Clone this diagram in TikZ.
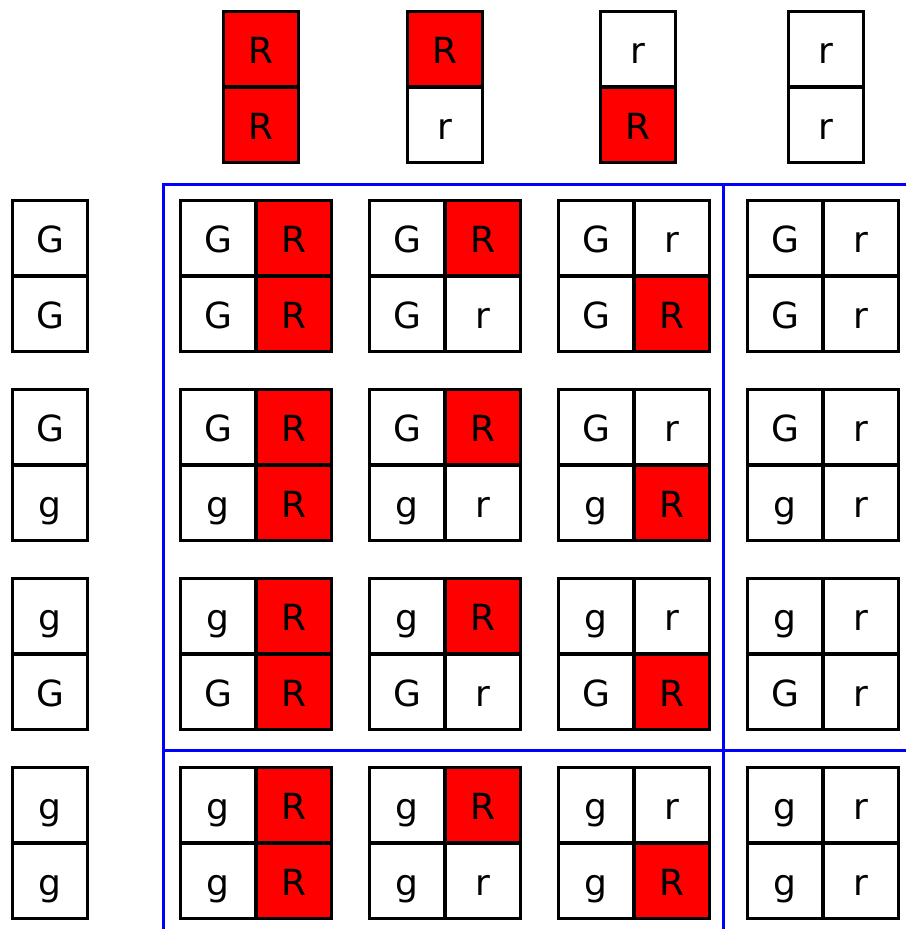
\documentclass[tikz,border=0pt]{standalone}
\usepackage{fontspec}
\setmainfont{DejaVu Sans}
\begin{document}
\begin{tikzpicture}[x=0.75pt,y=-0.75pt,
  cell/.style={draw=black, line width=2.6pt, minimum width=56.6pt, minimum height=56.6pt,
    inner sep=0pt, text height=22.1pt, text depth=0pt, font=\fontsize{27}{27}\selectfont},
  divider/.style={draw=blue, line width=2.6pt}]
\useasboundingbox (0,0) rectangle (906,929);
% header (column) pairs
\foreach \c/\x/\ta/\fa/\tb/\fb in {1/261/R/red/R/red, 2/445/R/red/r/white, 3/638/r/white/R/red, 4/826/r/white/r/white}{
  \node[cell,fill=\fa] (h\c a) at (\x,49.25) {\ta};
  \node[cell,fill=\fb] (h\c b) at (\x,124.75) {\tb};
}
% row labels
\foreach \r/\ta/\tb in {1/G/G, 2/G/g, 3/g/G, 4/g/g}{
  \pgfmathsetmacro\ya{238+189*(\r-1)}
  \pgfmathsetmacro\yb{313.5+189*(\r-1)}
  \node[cell] (v\r a) at (50,\ya) {\ta};
  \node[cell] (v\r b) at (50,\yb) {\tb};
  % grid
  \foreach \c/\ca/\fa/\cb/\fb in {1/R/red/R/red, 2/R/red/r/white, 3/r/white/R/red, 4/r/white/r/white}{
    \pgfmathsetmacro\xl{218.25+189*(\c-1)}
    \pgfmathsetmacro\xr{293.75+189*(\c-1)}
    \node[cell] (g\r\c la) at (\xl,\ya) {\ta};
    \node[cell] (g\r\c lb) at (\xl,\yb) {\tb};
    \node[cell,fill=\fa] (g\r\c ra) at (\xr,\ya) {\ca};
    \node[cell,fill=\fb] (g\r\c rb) at (\xr,\yb) {\cb};
  }
}
% blue dividers
\coordinate (tl) at (163.5,184.5);
\coordinate (tr) at (906,184.5);
\coordinate (bl) at (163.5,929);
\coordinate (mt) at (723.5,184.5);
\coordinate (mb) at (723.5,929);
\coordinate (hl) at (163.5,750.5);
\coordinate (hr) at (906,750.5);
\draw[divider] (bl) -- (tl) -- (tr);
\draw[divider] (mt) -- (mb);
\draw[divider] (hl) -- (hr);
\end{tikzpicture}
\end{document}
